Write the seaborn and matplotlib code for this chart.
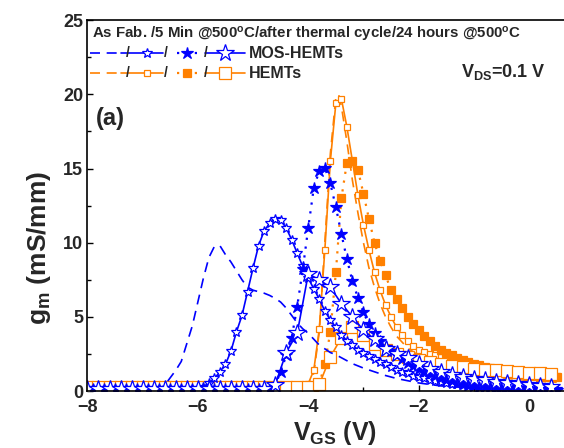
import matplotlib
matplotlib.use("Agg")
import matplotlib.pyplot as plt
import seaborn as sns
from matplotlib.lines import Line2D

# ---- gate-voltage sweeps -------------------------------------------------
vgs_fine = [-8.0, -7.9, -7.8, -7.7, -7.6, -7.5, -7.4, -7.3, -7.2, -7.1,
            -7.0, -6.9, -6.8, -6.7, -6.6, -6.5, -6.4, -6.3, -6.2, -6.1,
            -6.0, -5.9, -5.8, -5.7, -5.6, -5.5, -5.4, -5.3, -5.2, -5.1,
            -5.0, -4.9, -4.8, -4.7, -4.6, -4.5, -4.4, -4.3, -4.2, -4.1,
            -4.0, -3.9, -3.8, -3.7, -3.6, -3.5, -3.4, -3.3, -3.2, -3.1,
            -3.0, -2.9, -2.8, -2.7, -2.6, -2.5, -2.4, -2.3, -2.2, -2.1,
            -2.0, -1.9, -1.8, -1.7, -1.6, -1.5, -1.4, -1.3, -1.2, -1.1,
            -1.0, -0.9, -0.8, -0.7, -0.6, -0.5, -0.4, -0.3, -0.2, -0.1,
            0.0, 0.1, 0.2, 0.3, 0.4, 0.5]

vgs_coarse = [-8.0, -7.8, -7.6, -7.4, -7.2, -7.0, -6.8, -6.6, -6.4, -6.2,
              -6.0, -5.8, -5.6, -5.4, -5.2, -5.0, -4.8, -4.6, -4.4, -4.2,
              -4.0, -3.8, -3.6, -3.4, -3.2, -3.0, -2.8, -2.6, -2.4, -2.2,
              -2.0, -1.8, -1.6, -1.4, -1.2, -1.0, -0.8, -0.6, -0.4, -0.2,
              0.0, 0.2, 0.4]

# ---- MOS-HEMTs (mS/mm) ---------------------------------------------------
mos_asfab_vgs = [-8.0, -6.7, -6.6, -6.5, -6.4, -6.3, -6.2, -6.1, -6.0, -5.9,
                 -5.8, -5.7, -5.6, -5.5, -5.4, -5.3, -5.2, -5.1, -5.0, -4.9,
                 -4.8, -4.7, -4.6, -4.5, -4.4, -4.3, -4.2, -4.1, -4.0, -3.9,
                 -3.8, -3.7, -3.6, -3.5, -3.4, -3.3, -3.2, -3.1, -3.0, -2.8,
                 -2.6, -2.4, -2.2, -2.0, -1.8, -1.6, -1.4, -1.2, -1.0]
mos_asfab = [0.15, 0.15, 0.4, 0.9, 1.4, 2.0, 3.2, 4.4, 6.0, 7.6,
             9.0, 9.75, 9.8, 9.2, 8.7, 8.1, 7.5, 7.0, 6.8, 6.7,
             6.6, 6.45, 6.25, 6.0, 5.6, 5.1, 4.6, 4.2, 3.9, 3.5,
             3.1, 2.85, 2.6, 2.45, 2.25, 2.05, 1.85, 1.7, 1.55, 1.3,
             1.05, 0.85, 0.7, 0.55, 0.45, 0.35, 0.3, 0.25, 0.2]

mos_5min = [0.15, 0.15, 0.15, 0.15, 0.15, 0.15, 0.15, 0.15, 0.15, 0.15,
            0.15, 0.15, 0.15, 0.15, 0.15, 0.15, 0.15, 0.15, 0.15, 0.15,
            0.17, 0.3, 0.55, 0.85, 1.3, 1.8, 2.7, 4.0, 5.1, 6.7,
            8.3, 9.8, 10.8, 11.3, 11.6, 11.5, 11.0, 10.2, 9.3, 8.4,
            7.6, 6.9, 6.2, 5.4, 4.8, 4.3, 3.8, 3.4, 3.1, 2.8,
            2.55, 2.35, 2.15, 1.95, 1.8, 1.6, 1.45, 1.3, 1.2, 1.05,
            0.95, 0.85, 0.75, 0.68, 0.6, 0.55, 0.5, 0.45, 0.4, 0.37,
            0.34, 0.31, 0.28, 0.26, 0.24, 0.22, 0.2, 0.19, 0.18, 0.17,
            0.16, 0.15, 0.14, 0.13, 0.12, 0.12]

mos_cycle = [0.15, 0.15, 0.15, 0.15, 0.15, 0.15, 0.15, 0.15, 0.15, 0.15,
             0.15, 0.15, 0.15, 0.15, 0.15, 0.15, 0.15, 0.15, 0.15, 0.15,
             0.15, 0.15, 0.15, 0.15, 0.15, 0.15, 0.15, 0.15, 0.15, 0.15,
             0.15, 0.15, 0.15, 0.2, 0.4, 1.3, 2.4, 3.6, 5.7, 8.2,
             11.0, 13.7, 14.85, 15.05, 14.0, 12.4, 10.6, 8.9, 7.4, 6.3,
             5.3, 4.5, 3.9, 3.4, 3.0, 2.7, 2.4, 2.15, 1.9, 1.7,
             1.5, 1.35, 1.2, 1.05, 0.9, 0.78, 0.66, 0.55, 0.46, 0.4,
             0.35, 0.31, 0.28, 0.25, 0.22, 0.2, 0.18, 0.16, 0.15, 0.14,
             0.13, 0.12, 0.11, 0.1, 0.1, 0.1]

mos_24h = [0.15, 0.15, 0.15, 0.15, 0.15, 0.15, 0.15, 0.15, 0.15, 0.15,
           0.15, 0.15, 0.15, 0.15, 0.15, 0.15, 0.15, 0.4, 2.6, 3.9,
           7.9, 7.5, 7.0, 5.9, 5.0, 4.1, 3.5, 2.85, 2.5, 2.2,
           1.8, 1.5, 1.3, 1.1, 0.95, 0.8, 0.72, 0.62, 0.55, 0.48,
           0.4, 0.35, 0.3]

# ---- HEMTs (mS/mm) -------------------------------------------------------
hemt_asfab_vgs = [-8.0, -4.1, -4.0, -3.9, -3.8, -3.7, -3.6, -3.5, -3.45, -3.4,
                  -3.3, -3.2, -3.1, -3.0, -2.9, -2.8, -2.7, -2.6, -2.5, -2.4,
                  -2.2, -2.0, -1.8, -1.5, -1.0, -0.5, 0.0, 0.5]
hemt_asfab = [0.25, 0.25, 0.35, 1.2, 4.0, 10.0, 16.0, 19.8, 20.0, 19.2,
              16.8, 14.2, 12.0, 10.0, 8.3, 7.0, 5.9, 5.0, 4.3, 3.7,
              2.9, 2.4, 2.0, 1.6, 1.2, 0.9, 0.7, 0.6]

hemt_5min = [0.25, 0.25, 0.25, 0.25, 0.25, 0.25, 0.25, 0.25, 0.25, 0.25,
             0.25, 0.25, 0.25, 0.25, 0.25, 0.25, 0.25, 0.25, 0.25, 0.25,
             0.25, 0.25, 0.25, 0.25, 0.25, 0.25, 0.25, 0.25, 0.25, 0.25,
             0.25, 0.25, 0.25, 0.25, 0.25, 0.25, 0.25, 0.25, 0.25, 0.3,
             0.5, 1.4, 4.2, 9.5, 15.5, 19.4, 19.7, 17.8, 15.5, 13.2,
             11.2, 9.5, 8.0, 6.8, 5.8, 5.0, 4.3, 3.8, 3.35, 3.05,
             2.8, 2.65, 2.5, 2.4, 2.3, 2.2, 2.1, 2.0, 1.9, 1.82,
             1.75, 1.68, 1.62, 1.55, 1.5, 1.44, 1.38, 1.32, 1.27, 1.22,
             1.18, 1.15, 1.12, 1.1, 1.08, 1.05]

hemt_cycle = [0.25, 0.25, 0.25, 0.25, 0.25, 0.25, 0.25, 0.25, 0.25, 0.25,
              0.25, 0.25, 0.25, 0.25, 0.25, 0.25, 0.25, 0.25, 0.25, 0.25,
              0.25, 0.25, 0.25, 0.25, 0.25, 0.25, 0.25, 0.25, 0.25, 0.25,
              0.25, 0.25, 0.25, 0.25, 0.25, 0.25, 0.25, 0.25, 0.25, 0.25,
              0.25, 0.3, 0.5, 1.8, 4.0, 8.0, 13.0, 15.4, 15.5, 14.9,
              13.3, 11.6, 10.0, 8.8, 7.8, 6.8, 6.2, 5.6, 5.0, 4.5,
              4.1, 3.7, 3.35, 3.05, 2.8, 2.6, 2.4, 2.25, 2.1, 1.95,
              1.85, 1.75, 1.65, 1.55, 1.45, 1.4, 1.3, 1.25, 1.2, 1.15,
              1.1, 1.05, 1.0, 0.98, 0.95, 0.92]

hemt_24h = [0.25, 0.25, 0.25, 0.25, 0.25, 0.25, 0.25, 0.25, 0.25, 0.25,
            0.25, 0.25, 0.25, 0.25, 0.25, 0.25, 0.25, 0.25, 0.25, 0.25,
            0.25, 0.45, 2.3, 3.6, 4.3, 3.8, 3.2, 2.8, 2.5, 2.3,
            2.1, 1.95, 1.8, 1.7, 1.6, 1.5, 1.45, 1.4, 1.35, 1.3,
            1.25, 1.2, 1.15]

x_ticks = [-8, -6, -4, -2, 0]
y_ticks = [0, 5, 10, 15, 20, 25]

BLUE = "#0000FF"
ORANGE = "#FF8000"

sns.set_theme(style="ticks")
plt.rcParams["font.family"] = ["Liberation Sans", "DejaVu Sans"]
plt.rcParams["font.weight"] = "bold"
plt.rcParams["mathtext.fontset"] = "custom"
plt.rcParams["mathtext.rm"] = "Liberation Sans:bold"
plt.rcParams["mathtext.it"] = "Liberation Sans:bold"
plt.rcParams["mathtext.bf"] = "Liberation Sans:bold"

fig = plt.figure(figsize=(5.64, 4.48), dpi=100)
ax = fig.add_axes([0.155, 0.127, 0.881, 0.828])

# style per annealing condition
styles = {
    "asfab": dict(linestyle=(0, (6, 4)), marker=None, lw=1.2),
    "5min": dict(linestyle="-", marker="small", lw=1.2),
    "cycle": dict(linestyle=(0, (1, 3)), marker="filled", lw=1.6),
    "24h": dict(linestyle="-", marker="big", lw=1.2),
}


def marker_kw(kind, shape, color):
    if kind is None:
        return {}
    if shape == "*":
        size = {"small": 7, "filled": 9, "big": 13}[kind]
    else:
        size = {"small": 5, "filled": 6, "big": 9}[kind]
    face = color if kind == "filled" else "white"
    return dict(marker=shape, markersize=size, markerfacecolor=face,
                markeredgecolor=color, markeredgewidth=0.9)


def draw(x, y, cond, shape, color):
    st = styles[cond]
    sns.lineplot(x=x, y=y, ax=ax, color=color, linestyle=st["linestyle"],
                 linewidth=st["lw"], estimator=None, sort=False,
                 **marker_kw(st["marker"], shape, color))


# HEMTs underneath, MOS-HEMTs on top
draw(hemt_asfab_vgs, hemt_asfab, "asfab", "s", ORANGE)
draw(vgs_fine, hemt_5min, "5min", "s", ORANGE)
draw(vgs_fine, hemt_cycle, "cycle", "s", ORANGE)
draw(vgs_coarse, hemt_24h, "24h", "s", ORANGE)
draw(mos_asfab_vgs, mos_asfab, "asfab", "*", BLUE)
draw(vgs_fine, mos_5min, "5min", "*", BLUE)
draw(vgs_fine, mos_cycle, "cycle", "*", BLUE)
draw(vgs_coarse, mos_24h, "24h", "*", BLUE)

ax.set_xlim(-8, 1)
ax.set_ylim(0, 25)
ax.set_xticks(x_ticks)
ax.set_yticks(y_ticks)
ax.set_xticks([-7, -5, -3, -1], minor=True)
ax.set_yticks([2.5, 7.5, 12.5, 17.5, 22.5], minor=True)
ax.tick_params(axis="both", which="both", direction="in", color="black",
               width=1.0)
ax.tick_params(which="major", length=4)
ax.tick_params(which="minor", length=3)
ax.tick_params(axis="x", which="major", labelsize=13, pad=6)
ax.tick_params(axis="y", which="major", labelsize=13, pad=3)
for lbl in ax.get_xticklabels() + ax.get_yticklabels():
    lbl.set_fontweight("bold")
for side in ["left", "bottom", "top"]:
    ax.spines[side].set_color("black")
    ax.spines[side].set_linewidth(1.2)
ax.spines["right"].set_visible(False)

ax.set_xlabel(r"V$_{\mathregular{GS}}$ (V)", fontsize=18, fontweight="bold")
ax.set_ylabel(r"g$_{\mathregular{m}}$ (mS/mm)", fontsize=19, fontweight="bold")
ax.xaxis.set_label_coords(0.498, -0.075)
ax.yaxis.set_label_coords(-0.07, 0.385)

# ---- key ---------------------------------------------------------------
W, H = 564.0, 448.0


def fx(px):
    return px / W


def fy(py):
    return 1 - py / H


fig.text(fx(92), fy(34),
         r"As Fab. /5 Min @500$^{\mathregular{o}}$C/after thermal cycle/24 hours @500$^{\mathregular{o}}$C",
         fontsize=10.8, fontweight="bold", va="center", ha="left")

rows = [(53, BLUE, "*", "MOS-HEMTs"), (73, ORANGE, "s", "HEMTs")]
for py, color, shape, name in rows:
    y0 = fy(py)
    segs = [
        ((90, 118), "asfab", None),
        ((121, 163), "5min", 147),
        ((177, 198), "cycle", 187),
        ((205, 245), "24h", 225),
    ]
    for (xa, xb), cond, mx in segs:
        st = styles[cond]
        fig.add_artist(Line2D([fx(xa), fx(xb)], [y0, y0], color=color,
                              linestyle=st["linestyle"], linewidth=st["lw"],
                              transform=fig.transFigure))
        if mx is not None:
            fig.add_artist(Line2D([fx(mx)], [y0], linestyle="none",
                                  transform=fig.transFigure,
                                  **marker_kw(st["marker"], shape, color)))
    for sx in (128, 166, 206):
        fig.text(fx(sx), y0, "/", fontsize=10, fontweight="bold",
                 ha="center", va="center")
    fig.text(fx(249), y0, name, fontsize=11.5, fontweight="bold",
             ha="left", va="center")

fig.text(fx(461), fy(72), r"V$_{\mathregular{DS}}$=0.1 V", fontsize=13,
         fontweight="bold", ha="left", va="center")
fig.text(fx(96), fy(118), "(a)", fontsize=17, fontweight="bold",
         ha="left", va="center")

fig.savefig("out.png", dpi=100)
